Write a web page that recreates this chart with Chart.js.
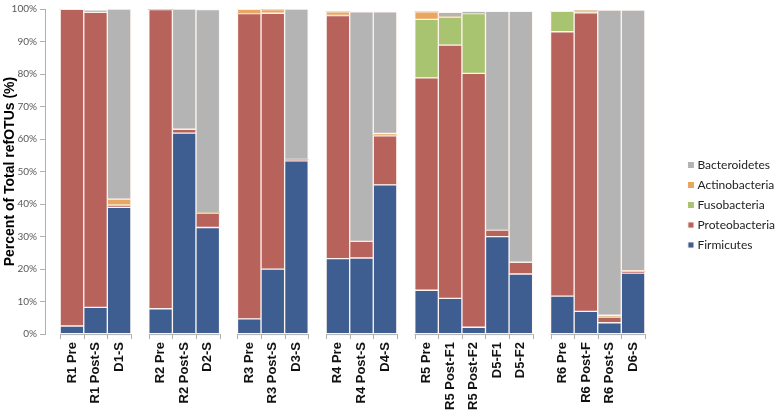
<!DOCTYPE html>
<html>
<head>
<meta charset="utf-8">
<script src="https://cdn.jsdelivr.net/npm/chart.js@4.4.1/dist/chart.umd.min.js"></script>
<style>
  html, body { margin: 0; padding: 0; background: #fff; }
  #wrap { width: 775px; height: 412px; }
</style>
</head>
<body>
<div id="wrap"><canvas id="chart"></canvas></div>
<script>
// sample groups (each group is drawn as one block of adjacent bars)
const groups = [
  ['R1 Pre', 'R1 Post-S', 'D1-S'],
  ['R2 Pre', 'R2 Post-S', 'D2-S'],
  ['R3 Pre', 'R3 Post-S', 'D3-S'],
  ['R4 Pre', 'R4 Post-S', 'D4-S'],
  ['R5 Pre', 'R5 Post-F1', 'R5 Post-F2', 'D5-F1', 'D5-F2'],
  ['R6 Pre', 'R6 Post-F', 'R6 Post-S', 'D6-S']
];

// percent of total refOTUs, one value per sample, in the order of groups above
const firmicutes     = [2.5, 8.2, 39.0,  7.8, 61.8, 32.8,  4.7, 20.0, 53.3,  23.2, 23.4, 45.9,  13.5, 11.0, 2.1, 30.0, 18.5,  11.7, 7.0, 3.5, 18.8];
const proteobacteria = [97.4, 90.8, 0.7,  92.0, 1.2, 4.4,  93.9, 78.7, 0.4,  74.8, 5.1, 15.1,  65.3, 77.9, 78.1, 2.0, 3.6,  81.3, 91.8, 1.7, 0.4];
const fusobacteria   = [0, 0, 0,  0, 0, 0,  0, 0, 0,  0, 0, 0,  18.0, 8.6, 18.4, 0, 0,  6.3, 0.6, 0, 0];
const actinobacteria = [0, 0.4, 1.8,  0, 0, 0,  1.3, 1.1, 0,  1.1, 0, 0.7,  2.3, 0, 0, 0, 0,  0, 0, 0.6, 0.3];
const bacteroidetes  = [0, 0, 58.5,  0, 37.0, 62.6,  0, 0, 46.3,  0, 70.6, 37.4,  0, 1.5, 0.7, 67.3, 77.2,  0, 0, 93.9, 80.2];

const yTicks = [0, 10, 20, 30, 40, 50, 60, 70, 80, 90, 100];

// layout: gap between groups (fraction of one bar), empty room right of the last bar
const GROUP_GAP = 0.76;
const RIGHT_ROOM = 0.95;

const labels = [];
const positions = [];
const groupSpans = [];
let idx = 0;
groups.forEach((g, gi) => {
  const start = idx + gi * GROUP_GAP;
  g.forEach((name, k) => {
    labels.push(name);
    positions.push(start + k);
  });
  groupSpans.push([start - 0.5, start + g.length - 0.5]);
  idx += g.length;
});

function series(label, values, color){
  return {
    label,
    data: values.map((v, i) => ({ x: positions[i], y: v })),
    backgroundColor: color,
    borderColor: 'rgba(255,244,238,0.9)',
    borderWidth: ctx => (ctx.raw && ctx.raw.y > 0 ? 1 : 0),
    borderSkipped: false,
    barPercentage: 1,
    categoryPercentage: 1,
    pointStyle: 'rect'
  };
}

// draws the broken x axis baseline with ticks at bar edges
const groupAxis = {
  id: 'groupAxis',
  afterDraw(chart){
    const x = chart.scales.x;
    const y0 = chart.chartArea.bottom;
    const c = chart.ctx;
    c.save();
    c.strokeStyle = '#b0b0b0';
    c.lineWidth = 1;
    groupSpans.forEach(([a, b]) => {
      const left = x.getPixelForValue(a), right = x.getPixelForValue(b);
      c.beginPath();
      c.moveTo(left, y0 + 0.5);
      c.lineTo(right, y0 + 0.5);
      for(let v = a; v <= b + 0.001; v += 1){
        const px = Math.round(x.getPixelForValue(v)) + 0.5;
        c.moveTo(px, y0);
        c.lineTo(px, y0 + 5);
      }
      c.stroke();
    });
    c.restore();
  }
};

new Chart(document.getElementById('chart'), {
  type: 'bar',
  data: {
    datasets: [
      series('Firmicutes', firmicutes, '#3e5e92'),
      series('Proteobacteria', proteobacteria, '#b8625c'),
      series('Fusobacteria', fusobacteria, '#a9c470'),
      series('Actinobacteria', actinobacteria, '#e9a660'),
      series('Bacteroidetes', bacteroidetes, '#b4b4b4')
    ]
  },
  options: {
    responsive: true,
    maintainAspectRatio: false,
    animation: false,
    layout: { padding: { top: -2, left: 0, right: -10, bottom: 0 } },
    plugins: {
      tooltip: { enabled: false },
      legend: {
        position: 'right',
        reverse: true,
        labels: {
          usePointStyle: true,
          boxWidth: 1,
          boxHeight: 6,
          padding: 8,
          color: '#222',
          font: { family: 'Lato', size: 12 }
        }
      }
    },
    scales: {
      x: {
        type: 'linear',
        stacked: true,
        min: groupSpans[0][0],
        max: groupSpans[groupSpans.length - 1][1] + RIGHT_ROOM,
        afterBuildTicks(scale){ scale.ticks = positions.map(v => ({ value: v })); },
        border: { display: false },
        grid: { display: true, drawOnChartArea: false, drawTicks: true, tickLength: 6, color: 'rgba(0,0,0,0)' },
        ticks: {
          autoSkip: false,
          minRotation: 90,
          maxRotation: 90,
          padding: 2,
          color: '#111',
          font: { family: 'Liberation Sans', size: 13, weight: 'bold' },
          callback: (v, i) => labels[i]
        }
      },
      y: {
        stacked: true,
        min: 0,
        max: 100,
        afterBuildTicks(scale){ scale.ticks = yTicks.map(v => ({ value: v })); },
        afterFit(scale){ scale.width = 45; },
        border: { display: true, color: '#b0b0b0' },
        grid: { drawOnChartArea: false, drawTicks: true, tickLength: 5, color: '#b0b0b0' },
        ticks: {
          padding: 3,
          color: '#595959',
          font: { family: 'Lato', size: 10 },
          callback: v => v + '%'
        },
        title: {
          display: true,
          text: 'Percent of Total refOTUs (%)',
          color: '#000',
          padding: { top: 2, bottom: 0 },
          font: { family: 'Liberation Sans', size: 14, weight: 'bold' }
        }
      }
    }
  },
  plugins: [groupAxis]
});
</script>
</body>
</html>
